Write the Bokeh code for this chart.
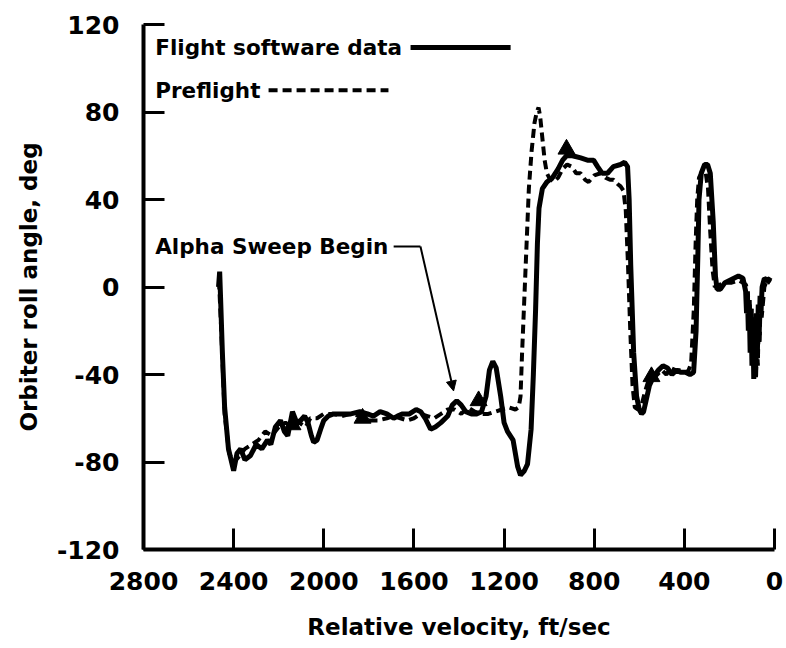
from bokeh.plotting import figure
from bokeh.models import Range1d, FixedTicker, Label, Arrow, NormalHead
from bokeh.embed import file_html
from bokeh.resources import INLINE

# ---- data ----
flight_v = [2467, 2462, 2458, 2450, 2440, 2423, 2400, 2385, 2369, 2350, 2325, 2300, 2275, 2250,
            2235, 2215, 2192, 2175, 2160, 2139, 2120, 2103, 2085, 2070, 2055, 2045, 2030, 2014,
            2000, 1980, 1957, 1920, 1880, 1840, 1806, 1780, 1750, 1720, 1690, 1673, 1650, 1620,
            1590, 1570, 1550, 1526, 1505, 1480, 1450, 1430, 1410, 1390, 1370, 1345, 1320, 1300,
            1280, 1265, 1250, 1235, 1215, 1200, 1185, 1160, 1140, 1127, 1110, 1096, 1080, 1070,
            1060, 1052, 1045, 1030, 1010, 985, 960, 940, 923, 896, 860, 830, 803, 785, 765, 741,
            715, 683, 665, 652, 645, 638, 625, 612, 600, 590, 581, 570, 555, 537, 515, 495, 475,
            455, 435, 417, 395, 375, 359, 348, 340, 335, 325, 310, 297, 285, 272, 262, 255, 240,
            220, 200, 180, 160, 140, 128, 124, 120, 116, 112, 108, 104, 100, 96, 92, 88, 84,
            80, 76, 72, 68, 64, 60, 55, 45, 32, 18]
flight_a = [0, 7, -5, -30, -55, -74, -84, -76, -74, -79, -77, -72, -74, -70,
            -72, -64, -61, -66, -68, -57, -62, -61, -59, -62, -68, -71, -70, -65,
            -61, -59, -58, -58, -58, -57, -58, -59, -57, -58, -60, -59, -58, -58,
            -56, -57, -60, -65, -64, -62, -59, -54, -52, -54, -57, -58, -58, -57,
            -50, -38, -34, -37, -50, -62, -66, -70, -82, -86, -84, -81, -65, -40,
            -10, 20, 36, 45, 48, 50, 54, 58, 60, 60, 59, 58, 58, 55, 52, 52,
            55, 56, 57, 55, 40, 10, -30, -50, -56, -58, -57, -52, -45, -41, -38, -36, -37,
            -40, -38, -39, -39, -40, -39, -20, 15, 40, 52, 56, 56, 52, 30, 5, -1, -1,
            2, 3, 4, 5, 4, -2, -12, -4, -20, -8, -30, -10, -36, -14, -42, -20, -38, -12,
            -30, -8, -22, -4, -12, 0, 4, 3, 2, 1]

pre_v = [2465, 2455, 2440, 2420, 2400, 2380, 2350, 2320, 2290, 2260, 2230, 2200, 2170, 2140,
         2110, 2080, 2060, 2030, 2000, 1960, 1920, 1880, 1840, 1800, 1760, 1720, 1690, 1660,
         1630, 1600, 1570, 1540, 1510, 1480, 1450, 1420, 1390, 1360, 1330, 1300, 1270, 1240,
         1210, 1180, 1150, 1135, 1127, 1120, 1110, 1100, 1090, 1078, 1065, 1055, 1047, 1040,
         1030, 1020, 1010, 1000, 980, 960, 940, 920, 900, 880, 861, 840, 825, 800, 772, 750,
         730, 714, 695, 683, 670, 660, 650, 640, 630, 620, 605, 590, 575, 560, 540, 520, 500,
         480, 460, 440, 410, 385, 370, 358, 350, 343, 335, 320, 305, 295, 285, 275, 265, 245,
         220, 190, 160, 140, 126, 122, 118, 114, 110, 106, 102, 98, 94, 90, 86, 82, 78, 74,
         70, 66, 62, 57, 45, 30, 14]
pre_a = [3, -20, -58, -76, -80, -78, -74, -72, -70, -66, -68, -64, -62, -64,
         -62, -64, -60, -60, -58, -58, -59, -58, -59, -61, -61, -60, -59, -60,
         -61, -60, -58, -59, -60, -58, -56, -56, -58, -55, -57, -58, -58, -57,
         -56, -55, -56, -55, -50, -30, -5, 20, 45, 62, 75, 80, 82, 78,
         68, 58, 52, 50, 48, 50, 54, 56, 55, 52, 52, 49, 48, 51, 52, 50,
         49, 49, 47, 46, 44, 35, 10, -20, -45, -55, -56, -54, -48, -43, -42, -40, -38,
         -40, -37, -38, -38, -39, -35, -10, 20, 40, 50, 53, 52, 45, 25, 8, 0, 1,
         2, 2, 3, 2, 1, -6, -2, -16, -6, -26, -10, -34, -14, -40, -18, -42, -24, -36,
         -14, -26, -6, -14, 0, 4, 3, 2]

marker_v = [2139, 1828, 1313, 923, 546]
marker_a = [-63, -60, -52, 63, -41]

x_ticks = [2800, 2400, 2000, 1600, 1200, 800, 400, 0]
y_ticks = [-120, -80, -40, 0, 40, 80, 120]
y_tick_labels = ["-120", "-80", "-40", "0", "40", "80", "120"]

FONT = "DejaVu Sans"

p = figure(width=784, height=648, output_backend="svg", toolbar_location=None,
           x_range=Range1d(2800, 0), y_range=Range1d(-120, 120),
           min_border_left=143, min_border_right=10, min_border_top=24, min_border_bottom=99)
p.outline_line_color = None
p.xgrid.visible = False
p.ygrid.visible = False
p.background_fill_color = "white"
p.border_fill_color = "white"

for ax in (p.xaxis[0], p.yaxis[0]):
    ax.axis_line_width = 4
    ax.axis_line_color = "black"
    ax.major_tick_line_width = 3
    ax.major_tick_line_color = "black"
    ax.major_tick_in = 21
    ax.major_tick_out = 0
    ax.minor_tick_line_color = None
    ax.major_label_text_font = FONT
    ax.major_label_text_font_style = "bold"
    ax.major_label_text_font_size = "25px"
    ax.major_label_text_color = "black"
    ax.axis_label_text_font = FONT
    ax.axis_label_text_font_style = "bold"
    ax.axis_label_text_font_size = "23px"
    ax.axis_label_text_color = "black"

p.xaxis.ticker = FixedTicker(ticks=x_ticks)
p.yaxis.ticker = FixedTicker(ticks=y_ticks)
p.yaxis.major_label_overrides = {t: s for t, s in zip(y_ticks, y_tick_labels)}
p.xaxis.axis_label = "Relative velocity, ft/sec"
p.yaxis.axis_label = "Orbiter roll angle, deg"
p.xaxis.major_label_standoff = 22
p.yaxis.major_label_standoff = 24
p.xaxis.axis_label_standoff = 21
p.yaxis.axis_label_standoff = 12

p.line(pre_v, pre_a, line_color="black", line_width=4, line_dash="9 5")
p.line(flight_v, flight_a, line_color="black", line_width=5)
p.scatter(marker_v, marker_a, marker="triangle", size=17, color="black")

# legend (drawn like the original: label then line sample)
LBL = "21.5px"
p.add_layout(Label(x=2748, y=109.5, text="Flight software data", text_font=FONT,
                   text_font_style="bold", text_font_size=LBL, text_baseline="middle",
                   text_color="black"))
p.add_layout(Arrow(end=None, x_start=1615, y_start=109.5, x_end=1171, y_end=109.5,
                   line_width=5, line_color="black"))
p.add_layout(Label(x=2748, y=90, text="Preflight", text_font=FONT,
                   text_font_style="bold", text_font_size=LBL, text_baseline="middle",
                   text_color="black"))
p.add_layout(Arrow(end=None, x_start=2245, y_start=90, x_end=1713, y_end=90,
                   line_width=4, line_color="black", line_dash="9 5"))

# annotation
p.add_layout(Label(x=2748, y=18.5, text="Alpha Sweep Begin", text_font=FONT,
                   text_font_style="bold", text_font_size=LBL, text_baseline="middle",
                   text_color="black"))
p.add_layout(Arrow(end=None, x_start=1690, y_start=18.5, x_end=1571, y_end=18.5,
                   line_width=2, line_color="black"))
p.add_layout(Arrow(end=NormalHead(size=10, fill_color="black", line_color="black"),
                   x_start=1571, y_start=18.5, x_end=1424, y_end=-47.5,
                   line_width=2, line_color="black"))

open("out.html", "w").write(file_html(p, INLINE))
